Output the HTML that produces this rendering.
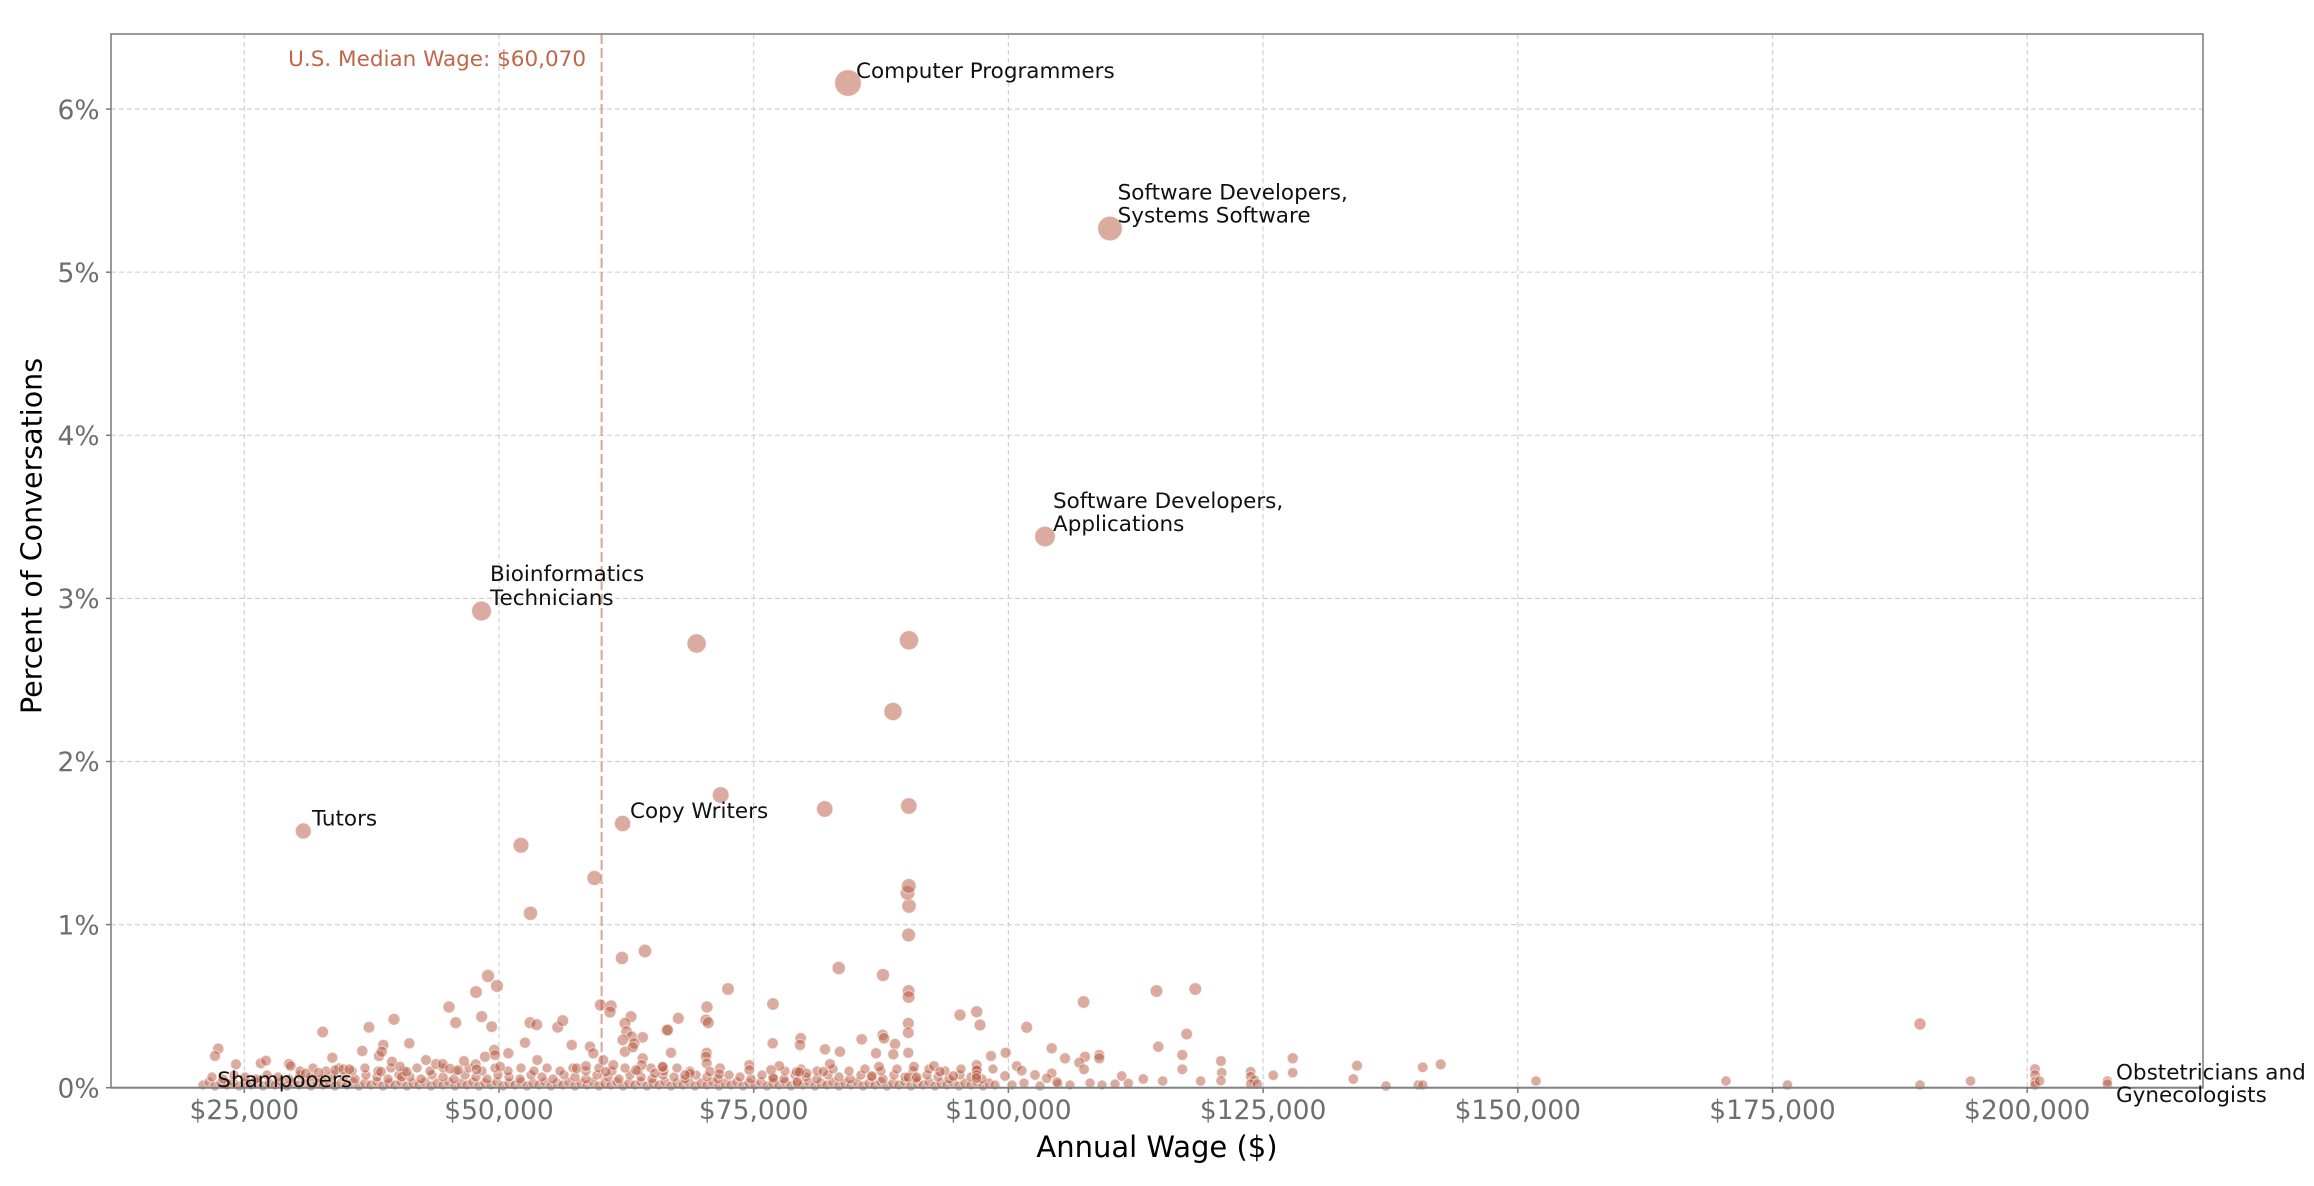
<!DOCTYPE html>
<html><head><meta charset="utf-8"><style>
html,body{margin:0;padding:0;background:#fff;}
svg{display:block;}
.t{font-family:"DejaVu Sans","Liberation Sans",sans-serif;}
.tick{font-size:26.5px;fill:#6e6e6e;}
.ann{font-size:21.5px;fill:#111;}
.pts circle{fill:#b5583e;fill-opacity:0.5;stroke:#fff;stroke-opacity:0.55;stroke-width:1;}
</style></head><body>
<svg width="2314" height="1186" viewBox="0 0 2314 1186" xmlns="http://www.w3.org/2000/svg">
<rect x="0" y="0" width="2314" height="1186" fill="#fff"/>
<!-- grid -->
<g stroke="#d2d2d2" stroke-width="1.2" stroke-dasharray="5 3" fill="none">
<line x1="244.3" y1="34" x2="244.3" y2="1087.7"/>
<line x1="499" y1="34" x2="499" y2="1087.7"/>
<line x1="753.7" y1="34" x2="753.7" y2="1087.7"/>
<line x1="1008.4" y1="34" x2="1008.4" y2="1087.7"/>
<line x1="1263.1" y1="34" x2="1263.1" y2="1087.7"/>
<line x1="1517.8" y1="34" x2="1517.8" y2="1087.7"/>
<line x1="1772.5" y1="34" x2="1772.5" y2="1087.7"/>
<line x1="2027.2" y1="34" x2="2027.2" y2="1087.7"/>
<line x1="111" y1="924.6" x2="2203" y2="924.6"/>
<line x1="111" y1="761.5" x2="2203" y2="761.5"/>
<line x1="111" y1="598.4" x2="2203" y2="598.4"/>
<line x1="111" y1="435.3" x2="2203" y2="435.3"/>
<line x1="111" y1="272.2" x2="2203" y2="272.2"/>
<line x1="111" y1="109.1" x2="2203" y2="109.1"/>
</g>
<!-- median line -->
<line x1="601.6" y1="34" x2="601.6" y2="1087.7" stroke="#dda393" stroke-width="2" stroke-dasharray="10 4"/>
<text class="t" x="586" y="66" text-anchor="end" font-size="21.5" fill="#c2664b">U.S. Median Wage: $60,070</text>

<!-- points -->
<g class="pts">
<!-- dense bottom row A -->
<circle cx="203" cy="1085" r="5"/><circle cx="209" cy="1082" r="5"/><circle cx="215" cy="1086" r="5"/><circle cx="221" cy="1083" r="5"/><circle cx="227" cy="1085" r="5"/><circle cx="233" cy="1082" r="5"/><circle cx="239" cy="1086" r="5"/><circle cx="245" cy="1083" r="5"/><circle cx="251" cy="1085" r="5"/><circle cx="257" cy="1082" r="5"/><circle cx="263" cy="1086" r="5"/><circle cx="269" cy="1083" r="5"/><circle cx="275" cy="1085" r="5"/><circle cx="281" cy="1082" r="5"/><circle cx="287" cy="1086" r="5"/><circle cx="293" cy="1083" r="5"/><circle cx="299" cy="1085" r="5"/><circle cx="305" cy="1082" r="5"/><circle cx="311" cy="1086" r="5"/><circle cx="317" cy="1083" r="5"/><circle cx="323" cy="1085" r="5"/><circle cx="329" cy="1082" r="5"/><circle cx="335" cy="1086" r="5"/><circle cx="341" cy="1083" r="5"/><circle cx="347" cy="1085" r="5"/><circle cx="353" cy="1082" r="5"/><circle cx="359" cy="1086" r="5"/><circle cx="365" cy="1083" r="5"/><circle cx="371" cy="1085" r="5"/><circle cx="377" cy="1082" r="5"/><circle cx="383" cy="1086" r="5"/><circle cx="389" cy="1083" r="5"/><circle cx="395" cy="1085" r="5"/><circle cx="401" cy="1082" r="5"/><circle cx="407" cy="1086" r="5"/><circle cx="413" cy="1083" r="5"/><circle cx="419" cy="1085" r="5"/><circle cx="425" cy="1082" r="5"/><circle cx="431" cy="1086" r="5"/><circle cx="437" cy="1083" r="5"/><circle cx="443" cy="1085" r="5"/><circle cx="449" cy="1082" r="5"/><circle cx="455" cy="1086" r="5"/><circle cx="461" cy="1083" r="5"/><circle cx="467" cy="1085" r="5"/><circle cx="473" cy="1082" r="5"/><circle cx="479" cy="1086" r="5"/><circle cx="485" cy="1083" r="5"/><circle cx="491" cy="1085" r="5"/><circle cx="497" cy="1082" r="5"/><circle cx="503" cy="1086" r="5"/><circle cx="509" cy="1083" r="5"/><circle cx="515" cy="1085" r="5"/><circle cx="521" cy="1082" r="5"/><circle cx="527" cy="1086" r="5"/><circle cx="533" cy="1083" r="5"/><circle cx="539" cy="1085" r="5"/><circle cx="545" cy="1082" r="5"/><circle cx="551" cy="1086" r="5"/><circle cx="557" cy="1083" r="5"/><circle cx="563" cy="1085" r="5"/><circle cx="569" cy="1082" r="5"/><circle cx="575" cy="1086" r="5"/><circle cx="581" cy="1083" r="5"/><circle cx="587" cy="1085" r="5"/><circle cx="593" cy="1082" r="5"/><circle cx="599" cy="1086" r="5"/><circle cx="605" cy="1083" r="5"/><circle cx="611" cy="1085" r="5"/><circle cx="617" cy="1082" r="5"/><circle cx="623" cy="1086" r="5"/><circle cx="629" cy="1083" r="5"/><circle cx="635" cy="1085" r="5"/><circle cx="641" cy="1082" r="5"/><circle cx="647" cy="1086" r="5"/><circle cx="653" cy="1083" r="5"/><circle cx="659" cy="1085" r="5"/><circle cx="665" cy="1082" r="5"/><circle cx="671" cy="1086" r="5"/><circle cx="677" cy="1083" r="5"/><circle cx="683" cy="1085" r="5"/><circle cx="689" cy="1082" r="5"/><circle cx="695" cy="1086" r="5"/><circle cx="701" cy="1083" r="5"/><circle cx="707" cy="1085" r="5"/><circle cx="713" cy="1082" r="5"/><circle cx="719" cy="1086" r="5"/><circle cx="725" cy="1083" r="5"/><circle cx="731" cy="1085" r="5"/><circle cx="737" cy="1082" r="5"/><circle cx="743" cy="1086" r="5"/><circle cx="749" cy="1083" r="5"/><circle cx="755" cy="1085" r="5"/><circle cx="761" cy="1082" r="5"/><circle cx="767" cy="1086" r="5"/><circle cx="773" cy="1083" r="5"/><circle cx="779" cy="1085" r="5"/><circle cx="785" cy="1082" r="5"/><circle cx="791" cy="1086" r="5"/><circle cx="797" cy="1083" r="5"/><circle cx="803" cy="1085" r="5"/><circle cx="809" cy="1082" r="5"/><circle cx="815" cy="1086" r="5"/><circle cx="821" cy="1083" r="5"/><circle cx="827" cy="1085" r="5"/><circle cx="833" cy="1082" r="5"/><circle cx="839" cy="1086" r="5"/><circle cx="845" cy="1083" r="5"/><circle cx="851" cy="1085" r="5"/><circle cx="857" cy="1082" r="5"/><circle cx="863" cy="1086" r="5"/><circle cx="869" cy="1083" r="5"/><circle cx="875" cy="1085" r="5"/><circle cx="881" cy="1082" r="5"/><circle cx="887" cy="1086" r="5"/><circle cx="893" cy="1083" r="5"/><circle cx="899" cy="1085" r="5"/><circle cx="905" cy="1082" r="5"/><circle cx="911" cy="1086" r="5"/><circle cx="917" cy="1083" r="5"/><circle cx="923" cy="1085" r="5"/><circle cx="929" cy="1082" r="5"/><circle cx="935" cy="1086" r="5"/><circle cx="941" cy="1083" r="5"/><circle cx="947" cy="1085" r="5"/><circle cx="953" cy="1082" r="5"/><circle cx="959" cy="1086" r="5"/><circle cx="965" cy="1083" r="5"/><circle cx="971" cy="1085" r="5"/><circle cx="977" cy="1082" r="5"/><circle cx="983" cy="1086" r="5"/><circle cx="989" cy="1083" r="5"/><circle cx="995" cy="1085" r="5"/>
<circle cx="1012" cy="1085" r="5"/><circle cx="1024" cy="1083" r="5"/><circle cx="1040" cy="1086" r="5"/><circle cx="1058" cy="1084" r="5"/><circle cx="1070" cy="1085" r="5"/><circle cx="1090" cy="1083" r="5"/><circle cx="1102" cy="1085" r="5"/><circle cx="1115" cy="1084" r="5"/>
<!-- row B -->
<circle cx="212" cy="1077" r="5"/><circle cx="223" cy="1079" r="5"/><circle cx="234" cy="1075" r="5"/><circle cx="245" cy="1077" r="5"/><circle cx="256" cy="1079" r="5"/><circle cx="267" cy="1075" r="5"/><circle cx="278" cy="1077" r="5"/><circle cx="289" cy="1079" r="5"/><circle cx="300" cy="1075" r="5"/><circle cx="311" cy="1077" r="5"/><circle cx="322" cy="1079" r="5"/><circle cx="333" cy="1075" r="5"/><circle cx="344" cy="1077" r="5"/><circle cx="355" cy="1079" r="5"/><circle cx="366" cy="1075" r="5"/><circle cx="377" cy="1077" r="5"/><circle cx="388" cy="1079" r="5"/><circle cx="399" cy="1075" r="5"/><circle cx="410" cy="1077" r="5"/><circle cx="421" cy="1079" r="5"/><circle cx="432" cy="1075" r="5"/><circle cx="443" cy="1077" r="5"/><circle cx="454" cy="1079" r="5"/><circle cx="465" cy="1075" r="5"/><circle cx="476" cy="1077" r="5"/><circle cx="487" cy="1079" r="5"/><circle cx="498" cy="1075" r="5"/><circle cx="509" cy="1077" r="5"/><circle cx="520" cy="1079" r="5"/><circle cx="531" cy="1075" r="5"/><circle cx="542" cy="1077" r="5"/><circle cx="553" cy="1079" r="5"/><circle cx="564" cy="1075" r="5"/><circle cx="575" cy="1077" r="5"/><circle cx="586" cy="1079" r="5"/><circle cx="597" cy="1075" r="5"/><circle cx="608" cy="1077" r="5"/><circle cx="619" cy="1079" r="5"/><circle cx="630" cy="1075" r="5"/><circle cx="641" cy="1077" r="5"/><circle cx="652" cy="1079" r="5"/><circle cx="663" cy="1075" r="5"/><circle cx="674" cy="1077" r="5"/><circle cx="685" cy="1079" r="5"/><circle cx="696" cy="1075" r="5"/><circle cx="707" cy="1077" r="5"/><circle cx="718" cy="1079" r="5"/><circle cx="729" cy="1075" r="5"/><circle cx="740" cy="1077" r="5"/><circle cx="751" cy="1079" r="5"/><circle cx="762" cy="1075" r="5"/><circle cx="773" cy="1077" r="5"/><circle cx="784" cy="1079" r="5"/><circle cx="795" cy="1075" r="5"/><circle cx="806" cy="1077" r="5"/><circle cx="817" cy="1079" r="5"/><circle cx="828" cy="1075" r="5"/><circle cx="839" cy="1077" r="5"/><circle cx="850" cy="1079" r="5"/><circle cx="861" cy="1075" r="5"/><circle cx="872" cy="1077" r="5"/><circle cx="883" cy="1079" r="5"/><circle cx="894" cy="1075" r="5"/><circle cx="905" cy="1077" r="5"/><circle cx="916" cy="1079" r="5"/><circle cx="927" cy="1075" r="5"/><circle cx="938" cy="1077" r="5"/><circle cx="949" cy="1079" r="5"/><circle cx="960" cy="1075" r="5"/><circle cx="971" cy="1077" r="5"/><circle cx="982" cy="1079" r="5"/>
<!-- row C -->
<circle cx="300" cy="1071" r="5"/><circle cx="313" cy="1068" r="5"/><circle cx="326" cy="1071" r="5"/><circle cx="339" cy="1068" r="5"/><circle cx="352" cy="1071" r="5"/><circle cx="365" cy="1068" r="5"/><circle cx="378" cy="1071" r="5"/><circle cx="391" cy="1068" r="5"/><circle cx="404" cy="1071" r="5"/><circle cx="417" cy="1068" r="5"/><circle cx="430" cy="1071" r="5"/><circle cx="443" cy="1068" r="5"/><circle cx="456" cy="1071" r="5"/><circle cx="469" cy="1068" r="5"/><circle cx="482" cy="1071" r="5"/><circle cx="495" cy="1068" r="5"/><circle cx="508" cy="1071" r="5"/><circle cx="521" cy="1068" r="5"/><circle cx="534" cy="1071" r="5"/><circle cx="547" cy="1068" r="5"/><circle cx="560" cy="1071" r="5"/><circle cx="573" cy="1068" r="5"/><circle cx="586" cy="1071" r="5"/><circle cx="599" cy="1068" r="5"/><circle cx="612" cy="1071" r="5"/><circle cx="625" cy="1068" r="5"/><circle cx="638" cy="1071" r="5"/><circle cx="651" cy="1068" r="5"/><circle cx="664" cy="1071" r="5"/><circle cx="677" cy="1068" r="5"/><circle cx="690" cy="1071" r="5"/>
<circle cx="785" cy="1071" r="5"/><circle cx="801" cy="1069" r="5"/><circle cx="817" cy="1071" r="5"/><circle cx="833" cy="1069" r="5"/><circle cx="849" cy="1071" r="5"/><circle cx="865" cy="1069" r="5"/><circle cx="881" cy="1071" r="5"/><circle cx="897" cy="1069" r="5"/><circle cx="913" cy="1071" r="5"/><circle cx="929" cy="1069" r="5"/><circle cx="945" cy="1071" r="5"/><circle cx="961" cy="1069" r="5"/><circle cx="977" cy="1071" r="5"/><circle cx="993" cy="1069" r="5"/>
<!-- x < 670 scattered (zoom 7) -->
<circle cx="322.7" cy="1032" r="5.8"/><circle cx="369" cy="1027.3" r="5.8"/><circle cx="394" cy="1019.3" r="5.9"/><circle cx="449" cy="1007" r="6"/><circle cx="455.7" cy="1022.7" r="5.9"/><circle cx="481.7" cy="1016.7" r="5.9"/><circle cx="491.7" cy="1026.7" r="5.8"/><circle cx="530" cy="1022.7" r="5.9"/><circle cx="536.7" cy="1024.7" r="5.9"/><circle cx="557.7" cy="1027.3" r="5.8"/><circle cx="562.7" cy="1020.7" r="5.9"/><circle cx="600.5" cy="1005" r="6"/><circle cx="611" cy="1006" r="6"/><circle cx="610" cy="1012" r="6"/><circle cx="631" cy="1016.7" r="5.9"/><circle cx="625" cy="1023.3" r="5.9"/><circle cx="666.7" cy="1030" r="5.8"/><circle cx="626.7" cy="1031.7" r="5.8"/><circle cx="631.7" cy="1036.7" r="5.7"/><circle cx="642.7" cy="1037.3" r="5.7"/><circle cx="622.7" cy="1040" r="5.7"/><circle cx="634.3" cy="1043.3" r="5.6"/><circle cx="625" cy="1051.7" r="5.6"/><circle cx="642.7" cy="1058.3" r="5.5"/><circle cx="632.7" cy="1047.3" r="5.6"/><circle cx="218.3" cy="1048.7" r="5.6"/><circle cx="215" cy="1056" r="5.5"/><circle cx="236" cy="1064.3" r="5.4"/><circle cx="260.7" cy="1063.3" r="5.4"/><circle cx="266" cy="1060.7" r="5.4"/><circle cx="289" cy="1064" r="5.4"/><circle cx="290.7" cy="1066" r="5.3"/><circle cx="305.7" cy="1073.3" r="5.2"/><circle cx="318.7" cy="1072.7" r="5.2"/><circle cx="332.3" cy="1057.7" r="5.5"/><circle cx="335.3" cy="1070" r="5.3"/><circle cx="343.3" cy="1069.3" r="5.3"/><circle cx="349.3" cy="1069.3" r="5.3"/><circle cx="362.3" cy="1051" r="5.6"/><circle cx="379" cy="1056" r="5.5"/><circle cx="383.3" cy="1045" r="5.6"/><circle cx="381.7" cy="1051.7" r="5.6"/><circle cx="409.3" cy="1043.3" r="5.6"/><circle cx="392" cy="1061.7" r="5.4"/><circle cx="381" cy="1071.7" r="5.2"/><circle cx="400" cy="1066.7" r="5.3"/><circle cx="401.7" cy="1076.7" r="5.2"/><circle cx="406.7" cy="1071.7" r="5.2"/><circle cx="426" cy="1060" r="5.4"/><circle cx="436" cy="1064" r="5.4"/><circle cx="442.7" cy="1064" r="5.4"/><circle cx="450" cy="1068.7" r="5.3"/><circle cx="458.3" cy="1070" r="5.3"/><circle cx="464" cy="1061" r="5.4"/><circle cx="475.7" cy="1064.3" r="5.4"/><circle cx="476.7" cy="1069.3" r="5.3"/><circle cx="485" cy="1056.7" r="5.5"/><circle cx="494.3" cy="1050" r="5.6"/><circle cx="495" cy="1055" r="5.5"/><circle cx="500" cy="1066.7" r="5.3"/><circle cx="508.3" cy="1053.3" r="5.5"/><circle cx="525" cy="1042.7" r="5.6"/><circle cx="537.3" cy="1060" r="5.4"/><circle cx="571.7" cy="1045" r="5.6"/><circle cx="590" cy="1046.7" r="5.6"/><circle cx="593.3" cy="1053.3" r="5.5"/><circle cx="576.7" cy="1068.3" r="5.3"/><circle cx="586" cy="1066" r="5.3"/><circle cx="603.3" cy="1060" r="5.4"/><circle cx="606" cy="1071.7" r="5.2"/><circle cx="613.3" cy="1065" r="5.4"/><circle cx="641.7" cy="1065" r="5.4"/><circle cx="655" cy="1073.3" r="5.2"/><circle cx="662.7" cy="1067.3" r="5.3"/><circle cx="636" cy="1070" r="5.3"/>
<!-- 660-1140 (zoom 8) -->
<circle cx="678.3" cy="1018.3" r="5.9"/><circle cx="667.7" cy="1030" r="5.8"/><circle cx="707" cy="1007" r="6"/><circle cx="706" cy="1020" r="5.9"/><circle cx="708.3" cy="1022.7" r="5.9"/><circle cx="671" cy="1052.7" r="5.5"/><circle cx="662.7" cy="1066.7" r="5.3"/><circle cx="706.7" cy="1052.7" r="5.5"/><circle cx="706" cy="1056.7" r="5.5"/><circle cx="706.7" cy="1063.3" r="5.4"/><circle cx="710" cy="1071.7" r="5.2"/><circle cx="720" cy="1068.3" r="5.3"/><circle cx="719.3" cy="1074" r="5.2"/><circle cx="690" cy="1073.3" r="5.2"/><circle cx="685" cy="1075" r="5.2"/><circle cx="749.3" cy="1065" r="5.4"/><circle cx="749.3" cy="1070" r="5.3"/><circle cx="772.7" cy="1043.3" r="5.6"/><circle cx="800.7" cy="1038.3" r="5.7"/><circle cx="800" cy="1045" r="5.6"/><circle cx="779.3" cy="1066" r="5.3"/><circle cx="771" cy="1070" r="5.3"/><circle cx="773.3" cy="1078.3" r="5.2"/><circle cx="796.7" cy="1071.7" r="5.2"/><circle cx="806.7" cy="1073.3" r="5.2"/><circle cx="825" cy="1049.3" r="5.6"/><circle cx="840" cy="1051.7" r="5.6"/><circle cx="830" cy="1064" r="5.4"/><circle cx="823.3" cy="1071.7" r="5.2"/><circle cx="861.7" cy="1039.3" r="5.7"/><circle cx="882.7" cy="1035" r="5.7"/><circle cx="884" cy="1038.3" r="5.7"/><circle cx="895" cy="1044" r="5.6"/><circle cx="893.3" cy="1054.3" r="5.5"/><circle cx="876" cy="1053.3" r="5.5"/><circle cx="879" cy="1066.7" r="5.3"/><circle cx="908.3" cy="1023.3" r="5.9"/><circle cx="908.3" cy="1032.7" r="5.8"/><circle cx="908.3" cy="1052.7" r="5.5"/><circle cx="914" cy="1066.7" r="5.3"/><circle cx="908.3" cy="1077.3" r="5.2"/><circle cx="916.7" cy="1077.3" r="5.2"/><circle cx="871.7" cy="1076" r="5.2"/><circle cx="960" cy="1015" r="6"/><circle cx="976.7" cy="1011.7" r="6"/><circle cx="980" cy="1025" r="5.9"/><circle cx="1026.7" cy="1027.3" r="5.9"/><circle cx="991" cy="1056" r="5.5"/><circle cx="1005.7" cy="1052.7" r="5.5"/><circle cx="1005" cy="1076" r="5.2"/><circle cx="934" cy="1066" r="5.3"/><circle cx="940" cy="1071.7" r="5.2"/><circle cx="953.3" cy="1076" r="5.2"/><circle cx="976.7" cy="1065" r="5.4"/><circle cx="976.7" cy="1070" r="5.3"/><circle cx="976.7" cy="1075" r="5.2"/><circle cx="1016.7" cy="1066" r="5.3"/><circle cx="1021.7" cy="1070.7" r="5.3"/><circle cx="1035" cy="1075" r="5.2"/><circle cx="1051.7" cy="1048.3" r="5.6"/><circle cx="1065" cy="1058.3" r="5.5"/><circle cx="1085" cy="1056.7" r="5.5"/><circle cx="1079.3" cy="1062.7" r="5.4"/><circle cx="1084" cy="1069.3" r="5.3"/><circle cx="1099.3" cy="1055" r="5.5"/><circle cx="1099.3" cy="1058.3" r="5.5"/><circle cx="1051.7" cy="1073.3" r="5.2"/><circle cx="1046.7" cy="1078.3" r="5.2"/><circle cx="1057" cy="1082" r="5.1"/><circle cx="1121.7" cy="1076" r="5.2"/><circle cx="1128.3" cy="1083.3" r="5.1"/><circle cx="797.3" cy="1082" r="5.1"/><circle cx="799.4" cy="1072" r="5.2"/><circle cx="976.4" cy="1078" r="5.2"/>
<!-- 1140+ (zoom 11 / zoom 4) -->
<circle cx="1186.7" cy="1034" r="5.8"/><circle cx="1158.3" cy="1046.7" r="5.6"/><circle cx="1182.3" cy="1055" r="5.5"/><circle cx="1182.3" cy="1069.3" r="5.3"/><circle cx="1143.3" cy="1079" r="5.2"/><circle cx="1162.7" cy="1081" r="5.1"/><circle cx="1200.7" cy="1081" r="5.1"/><circle cx="1221" cy="1061" r="5.4"/><circle cx="1221.7" cy="1072.7" r="5.2"/><circle cx="1221" cy="1080.7" r="5.1"/><circle cx="1250.7" cy="1071.7" r="5.2"/><circle cx="1250.7" cy="1076.7" r="5.2"/><circle cx="1254.3" cy="1080" r="5.1"/><circle cx="1250.7" cy="1084" r="5.1"/><circle cx="1257.3" cy="1084" r="5.1"/><circle cx="1273.3" cy="1075.3" r="5.2"/><circle cx="1292.7" cy="1058.3" r="5.5"/><circle cx="1292.7" cy="1072.7" r="5.2"/><circle cx="1357" cy="1065.7" r="5.4"/><circle cx="1353.3" cy="1079" r="5.2"/><circle cx="1386" cy="1086" r="5.1"/><circle cx="1422.7" cy="1067.3" r="5.3"/><circle cx="1440.7" cy="1064.3" r="5.4"/><circle cx="1418.3" cy="1085" r="5.1"/><circle cx="1422.7" cy="1085" r="5.1"/><circle cx="1536" cy="1081" r="5.1"/><circle cx="1726" cy="1081" r="5.1"/><circle cx="1787.5" cy="1085" r="5.1"/><circle cx="1920" cy="1085" r="5.1"/><circle cx="1970.6" cy="1081" r="5.1"/><circle cx="2035" cy="1069" r="5.3"/><circle cx="2035" cy="1075" r="5.2"/><circle cx="2035" cy="1082" r="5.1"/><circle cx="2035" cy="1085" r="5.1"/><circle cx="2039.5" cy="1081" r="5.1"/><circle cx="2107.4" cy="1081" r="5.1"/><circle cx="2107.4" cy="1084" r="5.1"/>
<!-- mid / upper points -->
<circle cx="1920" cy="1024" r="6"/><circle cx="1156.5" cy="991" r="6.3"/><circle cx="1195.3" cy="989" r="6.3"/><circle cx="1083.6" cy="1002" r="6.2"/>
<circle cx="908.6" cy="991" r="6.3"/><circle cx="908.6" cy="997" r="6.3"/><circle cx="838.7" cy="968" r="6.6"/><circle cx="883" cy="975" r="6.5"/>
<circle cx="773" cy="1004" r="6.2"/><circle cx="728" cy="989" r="6.3"/><circle cx="476" cy="992" r="6.3"/><circle cx="497" cy="986" r="6.4"/><circle cx="488" cy="976" r="6.5"/><circle cx="622" cy="958" r="6.6"/><circle cx="645" cy="951" r="6.7"/>
<circle cx="908.6" cy="935" r="6.9"/><circle cx="530.5" cy="913.3" r="7.1"/><circle cx="909" cy="906" r="7.2"/><circle cx="907.5" cy="893" r="7.3"/><circle cx="908.8" cy="886" r="7.4"/><circle cx="594.5" cy="878" r="7.5"/><circle cx="521" cy="845.3" r="7.9"/><circle cx="303.3" cy="831" r="8"/><circle cx="622.6" cy="823.5" r="8.1"/><circle cx="824.7" cy="809" r="8.2"/><circle cx="908.8" cy="806" r="8.2"/><circle cx="720.7" cy="795" r="8.3"/><circle cx="893" cy="711.5" r="9.1"/><circle cx="696.6" cy="643.5" r="9.6"/><circle cx="909" cy="640.3" r="9.6"/><circle cx="481.5" cy="611" r="9.9"/><circle cx="1045" cy="536.5" r="10.3"/><circle cx="1110" cy="228.5" r="12.3"/><circle cx="848" cy="83" r="13.3"/>
</g>

<!-- frame -->
<rect x="111" y="34" width="2092" height="1053.7" fill="none" stroke="#7a7a7a" stroke-width="1.5"/>
<line x1="111" y1="1087.7" x2="2203" y2="1087.7" stroke="#808080" stroke-width="2"/>
<!-- ticks -->
<g stroke="#7a7a7a" stroke-width="1.5">
<line x1="244.3" y1="1088" x2="244.3" y2="1093"/><line x1="499" y1="1088" x2="499" y2="1093"/><line x1="753.7" y1="1088" x2="753.7" y2="1093"/><line x1="1008.4" y1="1088" x2="1008.4" y2="1093"/><line x1="1263.1" y1="1088" x2="1263.1" y2="1093"/><line x1="1517.8" y1="1088" x2="1517.8" y2="1093"/><line x1="1772.5" y1="1088" x2="1772.5" y2="1093"/><line x1="2027.2" y1="1088" x2="2027.2" y2="1093"/>
<line x1="106" y1="1087.7" x2="111" y2="1087.7"/><line x1="106" y1="924.6" x2="111" y2="924.6"/><line x1="106" y1="761.5" x2="111" y2="761.5"/><line x1="106" y1="598.4" x2="111" y2="598.4"/><line x1="106" y1="435.3" x2="111" y2="435.3"/><line x1="106" y1="272.2" x2="111" y2="272.2"/><line x1="106" y1="109.1" x2="111" y2="109.1"/>
</g>
<!-- tick labels -->
<g class="t tick" text-anchor="end">
<text x="99.5" y="1097.4">0%</text>
<text x="99.5" y="934.3">1%</text>
<text x="99.5" y="771.2">2%</text>
<text x="99.5" y="608.1">3%</text>
<text x="99.5" y="445">4%</text>
<text x="99.5" y="281.9">5%</text>
<text x="99.5" y="118.8">6%</text>
</g>
<g class="t tick" text-anchor="middle">
<text x="244.3" y="1119">$25,000</text>
<text x="499" y="1119">$50,000</text>
<text x="753.7" y="1119">$75,000</text>
<text x="1008.4" y="1119">$100,000</text>
<text x="1263.1" y="1119">$125,000</text>
<text x="1517.8" y="1119">$150,000</text>
<text x="1772.5" y="1119">$175,000</text>
<text x="2027.2" y="1119">$200,000</text>
</g>
<!-- axis titles -->
<text class="t" x="1157" y="1157" text-anchor="middle" font-size="29" fill="#000">Annual Wage ($)</text>
<text class="t" transform="translate(41.5,536) rotate(-90)" x="0" y="0" text-anchor="middle" font-size="28.5" fill="#000">Percent of Conversations</text>

<!-- annotations -->
<g class="t ann">
<text x="856" y="78">Computer Programmers</text>
<text x="1117.6" y="199.5">Software Developers,</text>
<text x="1117.6" y="222.5">Systems Software</text>
<text x="1053" y="508">Software Developers,</text>
<text x="1053" y="531">Applications</text>
<text x="490" y="581">Bioinformatics</text>
<text x="490" y="605">Technicians</text>
<text x="312" y="825.5">Tutors</text>
<text x="630" y="818">Copy Writers</text>
<text x="217.3" y="1087">Shampooers</text>
<text x="2116" y="1079.5">Obstetricians and</text>
<text x="2116" y="1102">Gynecologists</text>
</g>
</svg>
</body></html>
